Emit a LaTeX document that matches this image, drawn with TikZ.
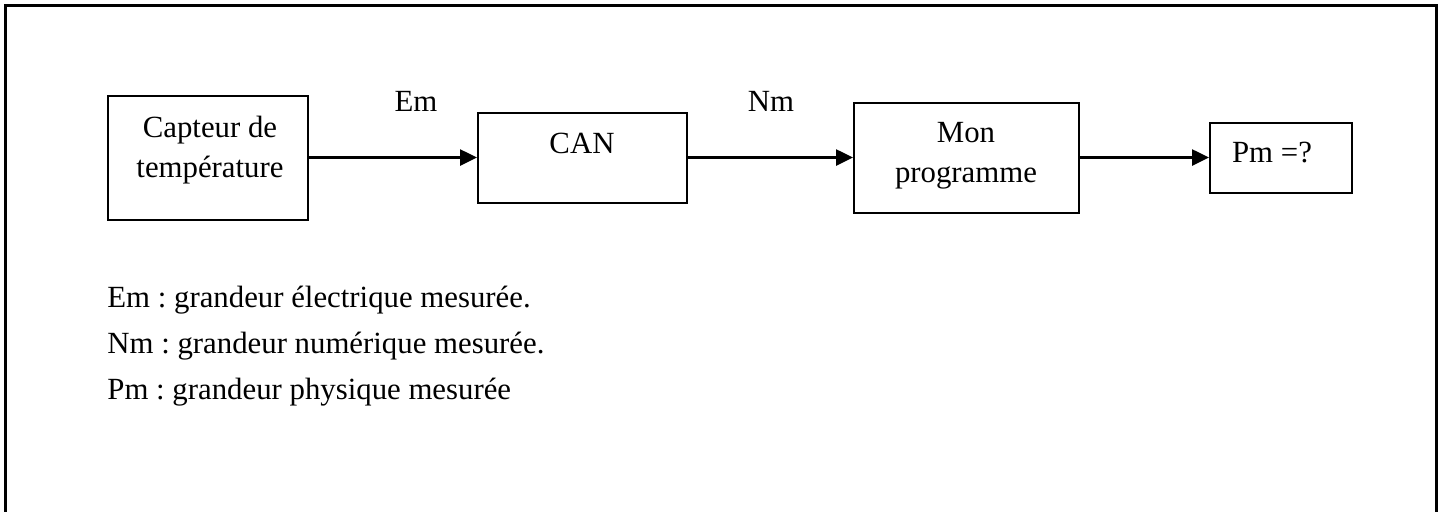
\documentclass[tikz,border=0pt]{standalone}
\usepackage{fontspec}
\setmainfont{Liberation Serif}
\usetikzlibrary{arrows.meta}
\frenchspacing
\begin{document}
\begin{tikzpicture}[x=0.5pt,y=-0.5pt,
  block/.style={draw,line width=1pt,inner sep=0pt},
  txt/.style={font=\fontsize{15.4}{20}\selectfont,inner sep=0pt,anchor=base},
  legend/.style={txt,anchor=base west},
  flow/.style={line width=1.3pt,-{Triangle[length=8.5pt,width=8pt]}}]
\useasboundingbox (0,0) rectangle (1445,511);
% outer frame, open at the bottom
\draw[line width=1.5pt] (5,515) -- (5,5) -- (1436,5) -- (1436,515);

% blocks of the chain
\node[block,minimum width=100pt,minimum height=62pt] (capteur) at (208,157.5) {};
\node[block,minimum width=104.5pt,minimum height=45pt] (can) at (582.5,157.5) {};
\node[block,minimum width=112.5pt,minimum height=55pt] (prog) at (966.5,157.5) {};
\node[block,minimum width=71pt,minimum height=35pt] (pm) at (1281,157.5) {};

% block texts
\node[txt] (tcap1) at (210,137) {Capteur de};
\node[txt] (tcap2) at (210,177) {température};
\node[txt] (tcan) at (582,153) {CAN};
\node[txt] (tprog1) at (966,142) {Mon};
\node[txt] (tprog2) at (966,182) {programme};
\node[txt] (tpm) at (1272,162) {Pm =?};

% signals
\draw[flow] (capteur.east) -- (can.west);
\draw[flow] (can.east) -- (prog.west);
\draw[flow] (prog.east) -- (pm.west);
\node[txt] (em) at (416,111) {Em};
\node[txt] (nm) at (771,111) {Nm};

% legend
\node[legend] (l1) at (107,307) {Em : grandeur électrique mesurée.};
\node[legend] (l2) at (107,353) {Nm : grandeur numérique mesurée.};
\node[legend] (l3) at (107,399) {Pm : grandeur physique mesurée};
\end{tikzpicture}
\end{document}
